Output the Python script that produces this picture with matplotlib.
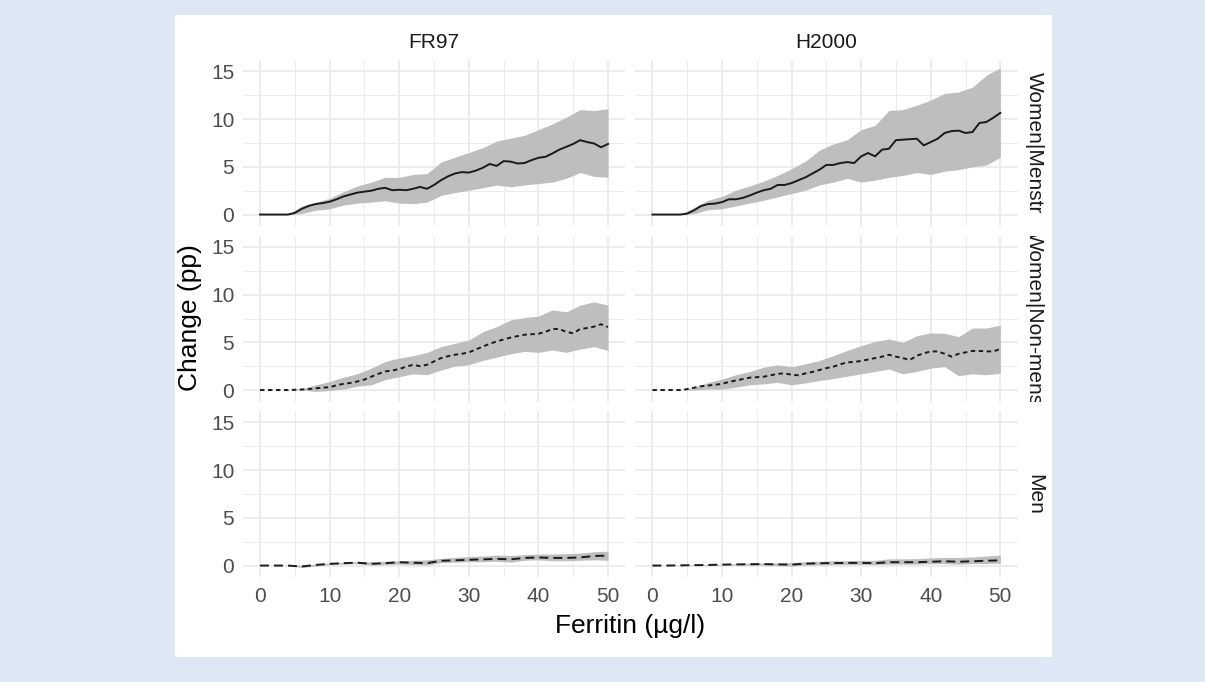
import numpy as np
import matplotlib
matplotlib.use("Agg")
import matplotlib.pyplot as plt
from matplotlib.patches import Rectangle

# ======= Data =======
facets_cols = ["FR97", "H2000"]
facets_rows = ["Women|Menstr", "Women|Non-mens", "Men"]

x_line = np.arange(0, 51)      # ferritin, step 1
x_band = np.arange(0, 51, 2)   # ferritin, step 2

fr97_menstr_line = [0, 0, 0, 0, 0, 0.17, 0.6, 0.9, 1.1, 1.2, 1.35, 1.6, 1.9, 2.1, 2.3, 2.4, 2.5,
                    2.7, 2.8, 2.55, 2.6, 2.55, 2.7, 2.9, 2.7, 3.1, 3.6, 4.0, 4.3, 4.45, 4.4, 4.6,
                    4.9, 5.3, 5.1, 5.6, 5.55, 5.35, 5.4, 5.7, 5.95, 6.05, 6.4, 6.8, 7.1, 7.4, 7.8,
                    7.6, 7.45, 7.05, 7.4]
fr97_menstr_hi = [0, 0, 0, 0.9, 1.3, 1.7, 2.4, 3.0, 3.4, 3.9, 3.9, 4.2, 4.3, 5.5, 6.0, 6.5, 7.0,
                  7.7, 8.0, 8.3, 8.9, 9.5, 10.2, 11.0, 10.9, 11.1]
fr97_menstr_lo = [0, 0, 0, 0.1, 0.45, 0.6, 1.0, 1.2, 1.3, 1.45, 1.2, 1.15, 1.3, 2.0, 2.3, 2.55,
                  2.8, 3.1, 2.9, 3.1, 3.25, 3.4, 3.8, 4.4, 4.0, 3.9]

h2000_menstr_line = [0, 0, 0, 0, 0, 0.1, 0.45, 0.9, 1.1, 1.15, 1.3, 1.6, 1.6, 1.75, 2.0, 2.3,
                     2.55, 2.7, 3.1, 3.1, 3.3, 3.6, 3.9, 4.3, 4.7, 5.2, 5.2, 5.4, 5.5, 5.4, 6.1,
                     6.45, 6.1, 6.8, 6.9, 7.8, 7.85, 7.9, 7.95, 7.25, 7.6, 7.95, 8.55, 8.75, 8.8,
                     8.55, 8.65, 9.6, 9.7, 10.15, 10.65]
h2000_menstr_hi = [0, 0, 0, 0.75, 1.5, 1.9, 2.55, 3.0, 3.5, 4.1, 4.8, 5.6, 6.75, 7.4, 7.85, 8.9,
                   9.35, 10.9, 11.0, 11.45, 12.0, 12.7, 12.85, 13.35, 14.6, 15.4]
h2000_menstr_lo = [0, 0, 0, 0.1, 0.5, 0.6, 0.9, 1.2, 1.5, 1.85, 2.2, 2.55, 3.1, 3.4, 3.8, 3.4,
                   3.6, 3.9, 4.1, 4.4, 4.2, 4.55, 4.7, 5.0, 5.2, 6.0]

fr97_nonmens_line = [0, 0, 0, 0, 0, 0.03, 0.06, 0.1, 0.18, 0.25, 0.3, 0.5, 0.65, 0.75, 0.9, 1.1,
                     1.4, 1.7, 1.95, 2.05, 2.2, 2.45, 2.65, 2.5, 2.65, 3.0, 3.35, 3.55, 3.7, 3.8,
                     3.95, 4.25, 4.55, 4.85, 5.1, 5.3, 5.5, 5.65, 5.8, 5.85, 5.9, 6.1, 6.4, 6.4,
                     6.1, 5.95, 6.4, 6.5, 6.65, 6.9, 6.6]
fr97_nonmens_hi = [0, 0, 0, 0.15, 0.55, 0.9, 1.35, 1.7, 2.3, 3.0, 3.35, 3.6, 3.95, 4.55, 4.9,
                   5.25, 6.1, 6.65, 7.35, 7.6, 7.75, 8.4, 8.2, 8.9, 9.25, 8.9]
fr97_nonmens_lo = [0, 0, 0, 0, -0.15, -0.05, 0.1, 0.4, 0.55, 1.1, 1.4, 1.7, 1.6, 2.1, 2.5, 2.65,
                   3.1, 3.45, 3.8, 4.05, 3.95, 4.2, 3.95, 4.3, 4.55, 4.15]

h2000_nonmens_line = [0, 0, 0, 0, 0, 0.1, 0.25, 0.4, 0.48, 0.55, 0.65, 0.85, 1.0, 1.15, 1.3, 1.35,
                      1.4, 1.55, 1.7, 1.75, 1.6, 1.55, 1.75, 1.9, 2.1, 2.3, 2.45, 2.7, 2.9, 2.95,
                      3.05, 3.2, 3.35, 3.5, 3.7, 3.5, 3.35, 3.15, 3.6, 3.85, 4.05, 4.05, 3.8, 3.5,
                      3.8, 3.95, 4.1, 4.1, 4.05, 4.05, 4.3]
h2000_nonmens_hi = [0, 0, 0, 0.3, 0.8, 1.15, 1.6, 1.95, 2.4, 2.65, 2.45, 2.75, 3.1, 3.6, 4.15,
                    4.65, 5.1, 5.35, 5.0, 5.7, 6.0, 5.95, 5.6, 6.5, 6.5, 6.8]
h2000_nonmens_lo = [0, 0, 0, 0, 0.1, 0.1, 0.3, 0.55, 0.65, 0.8, 0.55, 0.75, 1.0, 1.2, 1.45, 1.7,
                    1.95, 2.2, 1.7, 1.95, 2.3, 2.45, 1.5, 1.7, 1.6, 1.75]

fr97_men_line = [0, 0, 0, -0.1, 0.07, 0.18, 0.25, 0.3, 0.18, 0.25, 0.35, 0.3, 0.25, 0.5, 0.55,
                 0.6, 0.65, 0.7, 0.65, 0.8, 0.85, 0.8, 0.8, 0.85, 1.0, 1.05]
fr97_men_hi = [0, 0, 0, 0.05, 0.15, 0.25, 0.35, 0.4, 0.4, 0.45, 0.5, 0.55, 0.6, 0.75, 0.85, 0.95,
               1.0, 1.1, 1.05, 1.15, 1.2, 1.2, 1.25, 1.3, 1.45, 1.5]
fr97_men_lo = [0, 0, 0, -0.2, -0.05, 0.1, 0.15, 0.2, 0.05, 0.1, 0.15, 0.1, 0.05, 0.3, 0.35, 0.4,
               0.4, 0.45, 0.35, 0.55, 0.6, 0.5, 0.5, 0.55, 0.6, 0.55]

h2000_men_line = [0, 0, 0.02, 0.04, 0.06, 0.1, 0.12, 0.14, 0.15, 0.12, 0.1, 0.2, 0.24, 0.26,
                  0.28, 0.28, 0.25, 0.35, 0.35, 0.35, 0.4, 0.45, 0.4, 0.45, 0.5, 0.55]
h2000_men_hi = [0, 0, 0.03, 0.06, 0.1, 0.15, 0.2, 0.25, 0.28, 0.28, 0.3, 0.4, 0.45, 0.5, 0.5,
                0.55, 0.55, 0.7, 0.7, 0.72, 0.8, 0.85, 0.85, 0.9, 1.0, 1.1]
h2000_men_lo = [0, 0, 0, 0.02, 0.02, 0.05, 0.05, 0.05, 0.05, 0.0, -0.05, 0.05, 0.08, 0.1, 0.12,
                0.12, 0.1, 0.15, 0.15, 0.15, 0.2, 0.2, 0.15, 0.2, 0.22, 0.25]

x_ticks = [0, 10, 20, 30, 40, 50]
y_ticks = [0, 5, 10, 15]

# ======= Style =======
BG = "#dde8f4"
GRID = "#ebebeb"
RIBBON = "#bebebe"
LINE = "#1a1a1a"
FONT = "Liberation Sans"

plt.rcParams["font.family"] = FONT

W, H = 1205, 682


def fig_box(x0, y0, x1, y1):
    """Pixel box (top-left origin) -> figure fraction [left, bottom, w, h]."""
    return [x0 / W, 1 - y1 / H, (x1 - x0) / W, (y1 - y0) / H]


def style_panel(ax, show_x, show_y):
    ax.set_xlim(-2.5, 52.5)
    ax.set_ylim(-1.2, 16.2)
    ax.set_xticks(x_ticks)
    ax.set_xticks([5, 15, 25, 35, 45], minor=True)
    ax.set_yticks(y_ticks)
    ax.set_yticks([2.5, 7.5, 12.5], minor=True)
    ax.grid(which="major", color=GRID, linewidth=1.3)
    ax.grid(which="minor", color=GRID, linewidth=0.7)
    ax.set_axisbelow(True)
    for sp in ax.spines.values():
        sp.set_visible(False)
    ax.tick_params(which="both", length=0, labelsize=15, labelcolor="#4d4d4d")
    ax.tick_params(axis="x", pad=7)
    ax.tick_params(axis="y", pad=6)
    if not show_x:
        ax.set_xticklabels([])
    if not show_y:
        ax.set_yticklabels([])
    ax.set_facecolor("none")


# (line x, line y, band hi, band lo)
panels = [
    [(x_line, fr97_menstr_line, fr97_menstr_hi, fr97_menstr_lo),
     (x_line, h2000_menstr_line, h2000_menstr_hi, h2000_menstr_lo)],
    [(x_line, fr97_nonmens_line, fr97_nonmens_hi, fr97_nonmens_lo),
     (x_line, h2000_nonmens_line, h2000_nonmens_hi, h2000_nonmens_lo)],
    [(x_band, fr97_men_line, fr97_men_hi, fr97_men_lo),
     (x_band, h2000_men_line, h2000_men_hi, h2000_men_lo)],
]
row_styles = ["-", (0, (2.3, 1.8)), (0, (4.6, 2.6))]

col_px = [(242.6, 625.4), (635.0, 1017.7)]
row_px = [(60.0, 226.0), (235.5, 401.5), (411.0, 577.0)]

fig = plt.figure(figsize=(W / 100, H / 100), dpi=100)
fig.patch.set_facecolor(BG)
fig.patches.append(Rectangle((175 / W, 1 - 657 / H), 877 / W, 642 / H,
                             transform=fig.transFigure, facecolor="white",
                             edgecolor="none", zorder=-10))

for r, (y0, y1) in enumerate(row_px):
    for c, (x0, x1) in enumerate(col_px):
        ax = fig.add_axes(fig_box(x0, y0, x1, y1))
        style_panel(ax, show_x=(r == 2), show_y=(c == 0))
        lx, ly, hi, lo = panels[r][c]
        ax.fill_between(x_band, lo, hi, color=RIBBON, linewidth=0, zorder=2)
        ax.plot(lx, ly, color=LINE, linewidth=1.4, linestyle=row_styles[r], zorder=3)

    # --- right strip, clipped to panel height like ggplot ---
    sax = fig.add_axes(fig_box(1017.7, y0, 1052, y1))
    sax.axis("off")
    sax.text(0.5, 0.5, facets_rows[r], rotation=-90, ha="center", va="center",
             fontsize=15, color="#1a1a1a", transform=sax.transAxes, clip_on=True)

# --- top strips ---
for c, (x0, x1) in enumerate(col_px):
    fig.text((x0 + x1) / 2 / W, 1 - 48 / H, facets_cols[c], ha="center", va="baseline",
             fontsize=15, color="#1a1a1a")

# --- axis titles ---
fig.text(190 / W, 1 - 318 / H, "Change (pp)", rotation=90, ha="center", va="center",
         fontsize=19, color="black")
fig.text(630 / W, 1 - 633 / H, "Ferritin (µg/l)", ha="center", va="baseline",
         fontsize=19, color="black")

fig.savefig("out.png", dpi=100, facecolor=BG)
